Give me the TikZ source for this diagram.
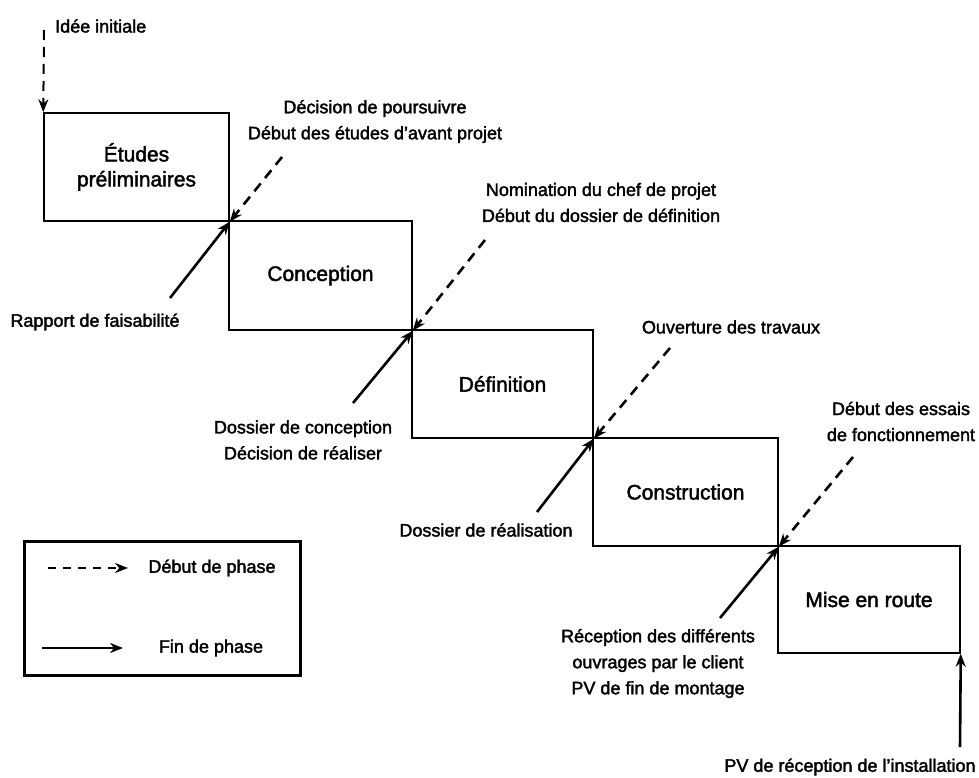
\documentclass[tikz,border=0pt]{standalone}
\usepackage{fontspec}
\setmainfont[FakeBold=2]{Liberation Sans}
\usetikzlibrary{arrows.meta}
\begin{document}
\begin{tikzpicture}[x=1pt,y=-1pt,
  phase/.style={draw, line width=1.5pt, inner sep=0pt, align=center,
    font=\fontsize{21}{25}\selectfont},
  lbl/.style={align=center, inner sep=0pt, font=\fontsize{18}{26}\selectfont},
  debut/.style={dash pattern=on 10pt off 7pt, line width=2.6pt,
    -{Stealth[length=13pt,width=10pt]}},
  fin/.style={line width=2.6pt, -{Stealth[length=13pt,width=10pt]}},
  legendbox/.style={draw, line width=3pt, inner sep=0pt}]
\useasboundingbox (0,0) rectangle (979,778);

% phases
\node[phase, minimum width=185pt, minimum height=108pt] (p1) at (136.5,167) {Études\\préliminaires};
\node[phase, minimum width=183pt, minimum height=109pt] (p2) at (320.5,275.5) {Conception};
\node[phase, minimum width=181pt, minimum height=108pt] (p3) at (502.5,384) {Définition};
\node[phase, minimum width=185pt, minimum height=108pt] (p4) at (685.5,492) {Construction};
\node[phase, minimum width=182pt, minimum height=107pt] (p5) at (869,599.5) {Mise en route};

% labels
\node[lbl, anchor=west] (l0) at (55,26) {Idée initiale};
\node[lbl] (l1) at (375,121.5) {Décision de poursuivre\\Début des études d'avant projet};
\node[lbl] (l2) at (601,202.5) {Nomination du chef de projet\\Début du dossier de définition};
\node[lbl] (l3) at (731,327) {Ouverture des travaux};
\node[lbl] (l4) at (901,421.5) {Début des essais\\de fonctionnement};
\node[lbl] (f1) at (95,322) {Rapport de faisabilité};
\node[lbl] (f2) at (303,440) {Dossier de conception\\Décision de réaliser};
\node[lbl] (f3) at (486,530) {Dossier de réalisation};
\node[lbl] (f4) at (658,663.5) {Réception des différents\\ouvrages par le client\\PV de fin de montage};
\node[lbl] (f5) at (850,767) {PV de réception de l’installation};

% free ends
\coordinate (d0) at (44,30);
\coordinate (d1) at (282,157);
\coordinate (d2) at (485,240);
\coordinate (d3) at (670,348);
\coordinate (d4) at (853,457);
\coordinate (s1) at (170,298);
\coordinate (s2) at (353,403);
\coordinate (s3) at (537,512);
\coordinate (s4) at (720,618);
\coordinate (s5) at (960,747);

% phase starts
\draw[debut, line width=2pt] (d0) -- (p1.north west);
\draw[debut] (d1) -- (p1.south east);
\draw[debut] (d2) -- (p2.south east);
\draw[debut] (d3) -- (p3.south east);
\draw[debut] (d4) -- (p4.south east);

% phase ends
\draw[fin] (s1) -- (p1.south east);
\draw[fin] (s2) -- (p2.south east);
\draw[fin] (s3) -- (p3.south east);
\draw[fin] (s4) -- (p4.south east);
\draw[fin] (s5) -- (p5.south east);

% legend
\node[legendbox, minimum width=276pt, minimum height=134pt] (leg) at (162,608) {};
\coordinate (ld1) at (48,568);
\coordinate (ld2) at (128,568);
\coordinate (lf1) at (42,648);
\coordinate (lf2) at (123,648);
\draw[debut, dash pattern=on 8pt off 7pt] (ld1) -- (ld2);
\draw[fin] (lf1) -- (lf2);
\node[lbl] (lt1) at (212,568) {Début de phase};
\node[lbl] (lt2) at (211,648) {Fin de phase};
\end{tikzpicture}
\end{document}
